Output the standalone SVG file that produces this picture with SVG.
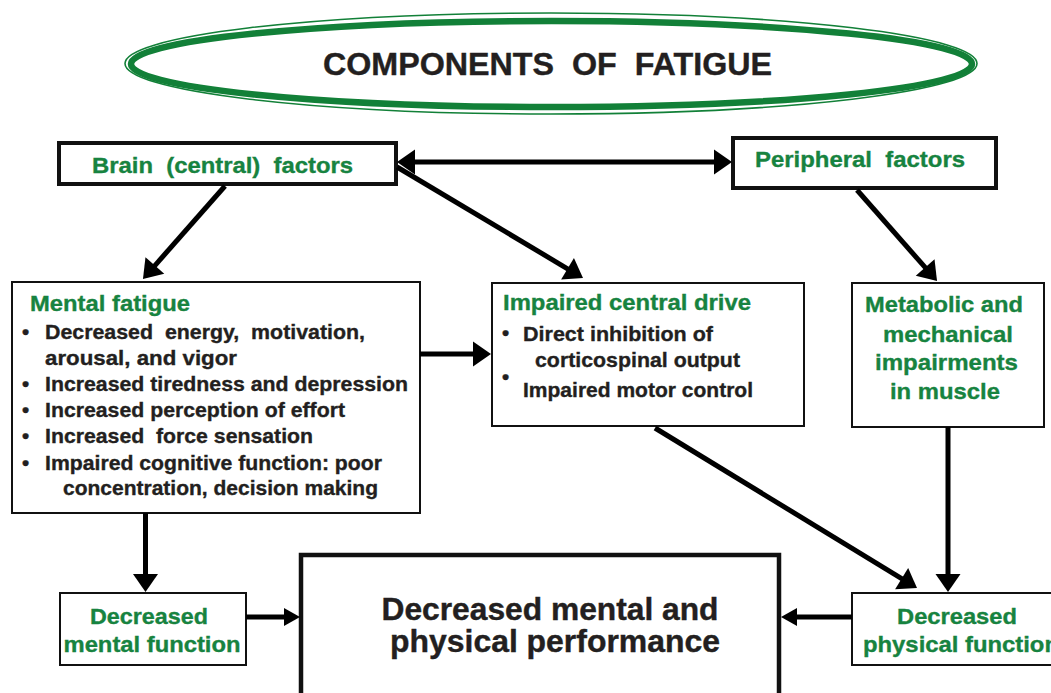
<svg xmlns="http://www.w3.org/2000/svg" width="1051" height="693" viewBox="0 0 1051 693">
<style>
  text { font-family: "Liberation Sans", Arial, Helvetica, sans-serif; font-weight: bold; }
  .g { fill: #178340; stroke: #178340; stroke-width: 0.35; font-size: 22.5px; }
  .k { fill: #231f20; stroke: #231f20; stroke-width: 0.35; font-size: 20.5px; }
  .big { fill: #231f20; stroke: #231f20; stroke-width: 0.4; font-size: 30.5px; }
  .title { fill: #231f20; stroke: #231f20; stroke-width: 0.4; font-size: 32px; }
  .thick { fill: #ffffff; stroke: #111111; stroke-width: 4; }
  .thin { fill: #ffffff; stroke: #111111; stroke-width: 2; }
  .conn line { stroke: #000000; stroke-width: 5; fill: none; }
</style>
<defs>
  <marker id="ah" markerUnits="userSpaceOnUse" markerWidth="19" markerHeight="26" refX="1" refY="12.5" orient="auto-start-reverse" overflow="visible">
    <path d="M0,0 L18,12.5 L0,25 Z" fill="#000000"/>
  </marker>
  <marker id="ahs" markerUnits="userSpaceOnUse" markerWidth="17" markerHeight="19" refX="1" refY="9" orient="auto-start-reverse" overflow="visible">
    <path d="M0,0 L16,9 L0,18 Z" fill="#000000"/>
  </marker>
</defs>
<rect x="0" y="0" width="1051" height="693" fill="#ffffff"/>

<g id="title">
  <ellipse cx="551" cy="63.5" rx="426" ry="50.5" fill="none" stroke="#128038" stroke-width="1.6"/>
  <ellipse cx="551.5" cy="64" rx="420.5" ry="43" fill="#ffffff" stroke="#128038" stroke-width="6.5"/>
  <text class="title" x="323" y="75" textLength="449" lengthAdjust="spacingAndGlyphs" xml:space="preserve">COMPONENTS  OF  FATIGUE</text>
</g>

<g id="brain">
  <rect class="thick" x="59" y="143" width="337" height="41"/>
  <text class="g" x="92" y="173" textLength="261" lengthAdjust="spacingAndGlyphs" xml:space="preserve">Brain  (central)  factors</text>
</g>

<g id="peripheral">
  <rect class="thick" x="733" y="138" width="263" height="50"/>
  <text class="g" x="755" y="167" textLength="210" lengthAdjust="spacingAndGlyphs" xml:space="preserve">Peripheral  factors</text>
</g>

<g id="mental-fatigue">
  <rect class="thin" x="12" y="282" width="408" height="231"/>
  <text class="g" x="30" y="311" textLength="160" lengthAdjust="spacingAndGlyphs">Mental fatigue</text>
  <text class="k" x="22" y="339">•</text>
  <text class="k" x="45" y="339" textLength="320" lengthAdjust="spacingAndGlyphs" xml:space="preserve">Decreased  energy,  motivation,</text>
  <text class="k" x="45" y="365" textLength="192" lengthAdjust="spacingAndGlyphs">arousal, and vigor</text>
  <text class="k" x="22" y="391">•</text>
  <text class="k" x="45" y="391" textLength="363" lengthAdjust="spacingAndGlyphs">Increased tiredness and depression</text>
  <text class="k" x="22" y="417">•</text>
  <text class="k" x="45" y="417" textLength="300" lengthAdjust="spacingAndGlyphs">Increased perception of effort</text>
  <text class="k" x="22" y="443">•</text>
  <text class="k" x="45" y="443" textLength="268" lengthAdjust="spacingAndGlyphs" xml:space="preserve">Increased  force sensation</text>
  <text class="k" x="22" y="469.5">•</text>
  <text class="k" x="45" y="469.5" textLength="337" lengthAdjust="spacingAndGlyphs">Impaired cognitive function: poor</text>
  <text class="k" x="63" y="495" textLength="315" lengthAdjust="spacingAndGlyphs">concentration, decision making</text>
</g>

<g id="impaired-central-drive">
  <rect class="thin" x="492" y="283" width="312" height="143"/>
  <text class="g" x="503" y="310" textLength="248" lengthAdjust="spacingAndGlyphs">Impaired central drive</text>
  <text class="k" x="502" y="340">•</text>
  <text class="k" x="523" y="341" textLength="190" lengthAdjust="spacingAndGlyphs">Direct inhibition of</text>
  <text class="k" x="535" y="367" textLength="205" lengthAdjust="spacingAndGlyphs">corticospinal output</text>
  <text class="k" x="502" y="384">•</text>
  <text class="k" x="523" y="397" textLength="230" lengthAdjust="spacingAndGlyphs">Impaired motor control</text>
</g>

<g id="metabolic">
  <rect class="thin" x="852" y="283" width="192" height="144"/>
  <text class="g" x="944" y="312" text-anchor="middle" textLength="158" lengthAdjust="spacingAndGlyphs">Metabolic and</text>
  <text class="g" x="948" y="341.5" text-anchor="middle" textLength="130" lengthAdjust="spacingAndGlyphs">mechanical</text>
  <text class="g" x="946.5" y="370" text-anchor="middle" textLength="143" lengthAdjust="spacingAndGlyphs">impairments</text>
  <text class="g" x="945" y="398.5" text-anchor="middle" textLength="110" lengthAdjust="spacingAndGlyphs">in muscle</text>
</g>

<g id="decreased-mental-function">
  <rect class="thin" x="60" y="593" width="186" height="72"/>
  <text class="g" x="90" y="623.5" textLength="118" lengthAdjust="spacingAndGlyphs">Decreased</text>
  <text class="g" x="63.5" y="652" textLength="177" lengthAdjust="spacingAndGlyphs">mental function</text>
</g>

<g id="decreased-physical-function">
  <rect class="thin" x="852" y="593" width="215" height="72"/>
  <text class="g" x="897" y="623.5" textLength="120" lengthAdjust="spacingAndGlyphs">Decreased</text>
  <text class="g" x="863" y="652" textLength="196" lengthAdjust="spacingAndGlyphs">physical function</text>
</g>

<g id="performance">
  <rect x="301" y="555" width="478" height="160" fill="#ffffff" stroke="#111111" stroke-width="4.5"/>
  <text class="big" x="381.5" y="620" textLength="337" lengthAdjust="spacingAndGlyphs">Decreased mental and</text>
  <text class="big" x="390" y="652" textLength="330" lengthAdjust="spacingAndGlyphs">physical performance</text>
</g>

<g id="connectors" class="conn">
  <line x1="414" y1="162" x2="715" y2="162" marker-start="url(#ah)" marker-end="url(#ah)"/>
  <line x1="225" y1="186" x2="154.2" y2="266.3" marker-end="url(#ah)"/>
  <line x1="397" y1="167" x2="568.4" y2="269.3" marker-end="url(#ah)"/>
  <line x1="857" y1="190" x2="925.8" y2="268.2" marker-end="url(#ah)"/>
  <line x1="420" y1="354" x2="474" y2="354" marker-end="url(#ah)"/>
  <line x1="145.5" y1="513" x2="145.5" y2="575" marker-end="url(#ah)"/>
  <line x1="246" y1="617" x2="285" y2="617" marker-end="url(#ahs)"/>
  <line x1="655" y1="428" x2="902.5" y2="579.1" marker-end="url(#ah)"/>
  <line x1="948" y1="427" x2="948" y2="575" marker-end="url(#ah)"/>
  <line x1="852" y1="617" x2="796" y2="617" marker-end="url(#ahs)"/>
</g>
</svg>
